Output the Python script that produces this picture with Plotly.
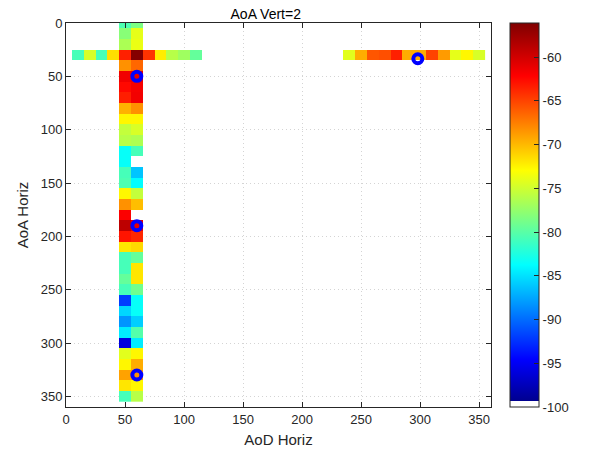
import numpy as np
import plotly.graph_objects as go

# ---------------- data ----------------
aod_grid = list(range(0, 360, 10))   # x cell centres (AoD Horiz)
aoa_grid = list(range(0, 360, 10))   # y cell centres (AoA Horiz)

# vertical strip: AoD = 50 and AoD = 60, AoA rows 0..350
col_aod = [50, 60]
col_aoa = list(range(0, 360, 10))
col50 = [-80.5, -78.0, -76.5, -63.5, -68.3, -61.5, -62.5, -63.4, -69.7, -72.6,
         -75.5, -76.0, -83.5, -83.5, -80.8, -80.5, -72.6, -68.3, -62.0, -59.0,
         -63.0, -71.9, -80.8, -80.8, -79.5, -80.8, -92.0, -85.5, -88.3, -84.5,
         -96.0, -74.2, -72.6, -69.0, -71.9, -80.8]
col60 = [-78.5, -74.0, -73.8, -56.3, -66.5, -61.0, -61.7, -61.6, -68.3, -72.6,
         -74.6, -76.4, -80.8, None, -86.2, -83.8, -75.5, -70.2, None, -61.0,
         -63.8, -71.3, -79.5, -71.9, -71.9, -79.0, -83.5, -83.5, -85.8, -80.2,
         -84.5, -72.6, -69.5, -68.3, -72.6, -76.0]

# horizontal strips at AoA = 30
row_aoa = 30
row_left_aod = [10, 20, 30, 40, 50, 60, 70, 80, 90, 100, 110]
row_left_val = [-80.8, -74.6, -80.8, -71.6, -63.5, -56.3, -64.3, -72.2, -76.0, -77.0, -79.5]
row_right_aod = [240, 250, 260, 270, 280, 290, 300, 310, 320, 330, 340, 350]
row_right_val = [-74.2, -69.5, -65.8, -65.5, -63.5, -69.5, -69.5, -65.0, -68.7, -74.0, -72.6, -74.6]

# marked peaks
peak_aod = [60, 60, 60, 298]
peak_aoa = [50, 190, 330, 33.5]

zmin, zmax = -100.0, -56.1
xticks = [0, 50, 100, 150, 200, 250, 300, 350]
yticks = [0, 50, 100, 150, 200, 250, 300, 350]
cbar_ticks = [-100, -95, -90, -85, -80, -75, -70, -65, -60]

# ---------------- build matrix ----------------
Z = np.full((len(aoa_grid), len(aod_grid)), np.nan)
xi = {v: i for i, v in enumerate(aod_grid)}
yi = {v: i for i, v in enumerate(aoa_grid)}
for r, a in enumerate(col_aoa):
    if col50[r] is not None:
        Z[yi[a], xi[50]] = col50[r]
    if col60[r] is not None:
        Z[yi[a], xi[60]] = col60[r]
for a, v in zip(row_left_aod, row_left_val):
    Z[yi[row_aoa], xi[a]] = v
for a, v in zip(row_right_aod, row_right_val):
    Z[yi[row_aoa], xi[a]] = v

# jet colormap with white lowest level
w = 1 / 64
def lerp(t):
    return w + t * (1 - w)
jet = [
    [0.0, "rgb(255,255,255)"], [w, "rgb(255,255,255)"],
    [w, "rgb(0,0,143)"],
    [lerp(0.11), "rgb(0,0,255)"],
    [lerp(0.36), "rgb(0,255,255)"],
    [lerp(0.61), "rgb(255,255,0)"],
    [lerp(0.86), "rgb(255,0,0)"],
    [1.0, "rgb(128,0,0)"],
]

txt = "#262626"
font_family = "Liberation Sans, Arial, sans-serif"

fig = go.Figure()
fig.add_trace(go.Heatmap(
    x=aod_grid, y=aoa_grid, z=Z, zmin=zmin, zmax=zmax,
    colorscale=jet, hoverongaps=False,
    colorbar=dict(
        x=1.0447, xanchor="left", xref="paper",
        y=0.5, yanchor="middle", len=1.0, lenmode="fraction",
        thickness=29, thicknessmode="pixels",
        outlinecolor=txt, outlinewidth=1,
        ticks="inside", ticklen=5, tickcolor=txt,
        tickvals=cbar_ticks, ticktext=[str(t) for t in cbar_ticks],
        tickfont=dict(size=13, color=txt, family=font_family),
        xpad=0, ypad=0,
    ),
))
fig.add_trace(go.Scatter(
    x=peak_aod, y=peak_aoa, mode="markers",
    marker=dict(symbol="circle-open", size=9, color="#0000ff",
                line=dict(width=4, color="#0000ff")),
    showlegend=False, hoverinfo="skip",
))

axis_common = dict(
    showline=True, linecolor=txt, linewidth=1, mirror="ticks",
    ticks="inside", ticklen=5, tickcolor=txt, tickwidth=1,
    showgrid=True, gridcolor="#d4d4d4", gridwidth=1, griddash="1px,3px",
    zeroline=False, layer="above traces",
    tickfont=dict(size=13, color=txt, family=font_family),
)

fig.update_layout(
    width=589, height=460,
    margin=dict(l=66, r=98, t=23, b=53),
    paper_bgcolor="white", plot_bgcolor="white",
    font=dict(family=font_family, color=txt),
    title=dict(text="AoA Vert=2", x=0.47, xref="paper", xanchor="center",
               y=1, yref="paper", yanchor="bottom", pad=dict(b=4),
               font=dict(size=14, color="#000000", family=font_family)),
    xaxis=dict(range=[0, 360], tickvals=xticks,
               title=dict(text="AoD Horiz", standoff=8,
                          font=dict(size=15, color=txt, family=font_family)),
               **axis_common),
    yaxis=dict(range=[360, 0], tickvals=yticks,
               title=dict(text="AoA Horiz", standoff=8,
                          font=dict(size=15, color=txt, family=font_family)),
               **axis_common),
)

fig.write_html("out.html")
